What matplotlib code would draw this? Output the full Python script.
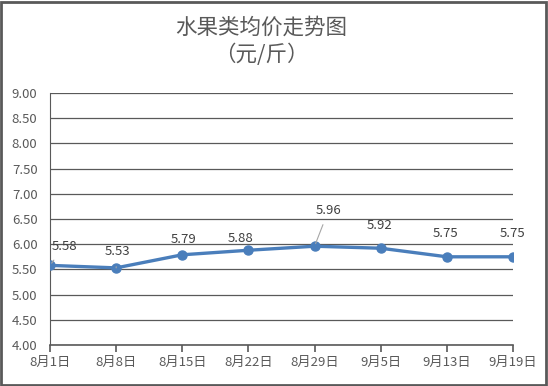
import matplotlib
matplotlib.use('Agg')
import matplotlib.pyplot as plt
from matplotlib.patches import Rectangle

plt.rcParams['font.family'] = ['Noto Sans CJK SC', 'DejaVu Sans']

# ── 数据 ───────────────────────────────────────────
dates  = ['8月1日', '8月8日', '8月15日', '8月22日', '8月29日', '9月5日', '9月13日', '9月19日']
prices = [5.58, 5.53, 5.79, 5.88, 5.96, 5.92, 5.75, 5.75]
yticks = [4.0, 4.5, 5.0, 5.5, 6.0, 6.5, 7.0, 7.5, 8.0, 8.5, 9.0]
# 数据标签偏移 (像素) 及是否有引导线
label_off = [(14, 19), (1, 16), (1, 15), (-8, 12), (14, 36), (-1, 23), (-1, 23), (0, 23)]
leader    = [True, True, False, False, True, False, False, False]

GRID  = '#595959'
TXT   = '#595959'
LINE  = '#4A7EBB'

fig = plt.figure(figsize=(5.48, 3.86), dpi=100, facecolor='white')
ax = fig.add_axes([50 / 548, 41 / 386, 463 / 548, 252 / 386])

x = list(range(len(dates)))
ax.plot(x, prices, color=LINE, lw=2.4, marker='o', ms=6.5, zorder=3,
        solid_capstyle='round')

for i, v in enumerate(prices):
    dx, dy = label_off[i]
    ap = dict(arrowstyle='-', color='#A6A6A6', lw=0.8, shrinkA=4, shrinkB=2) if leader[i] else None
    ax.annotate(f'{v:.2f}', xy=(i, v), xytext=(dx, dy), textcoords='offset pixels',
                ha='center', va='center', fontsize=9.5, color='#404040',
                arrowprops=ap, zorder=4)

ax.set_xlim(0, len(dates) - 1)
ax.set_ylim(4, 9)
ax.set_yticks(yticks)
ax.set_yticklabels([f'{t:.2f}' for t in yticks])
ax.set_xticks(x)
ax.set_xticklabels(dates)
ax.grid(axis='y', color=GRID, lw=0.9)
ax.set_axisbelow(True)

for s in ['top', 'right']:
    ax.spines[s].set_visible(False)
ax.spines['left'].set_color(GRID)
ax.spines['bottom'].set_color(GRID)
ax.spines['bottom'].set_linewidth(1.2)
ax.tick_params(axis='y', length=0, pad=9, labelsize=9.5, labelcolor=TXT)
ax.tick_params(axis='x', length=5, width=1.2, color=GRID, direction='out',
               pad=3, labelsize=9.5, labelcolor=TXT)

fig.text(261 / 548, 1 - 28 / 386, '水果类均价走势图', ha='center', va='center',
         fontsize=15.5, color=TXT)
fig.text(261 / 548, 1 - 55 / 386, '（元/斤）', ha='center', va='center',
         fontsize=15.5, color=TXT)

fig.patches.append(Rectangle((0.002, 0.003), 0.994, 0.993, transform=fig.transFigure,
                             fill=False, edgecolor='#595959', lw=2))

fig.savefig('out.png', dpi=100, facecolor='white')
